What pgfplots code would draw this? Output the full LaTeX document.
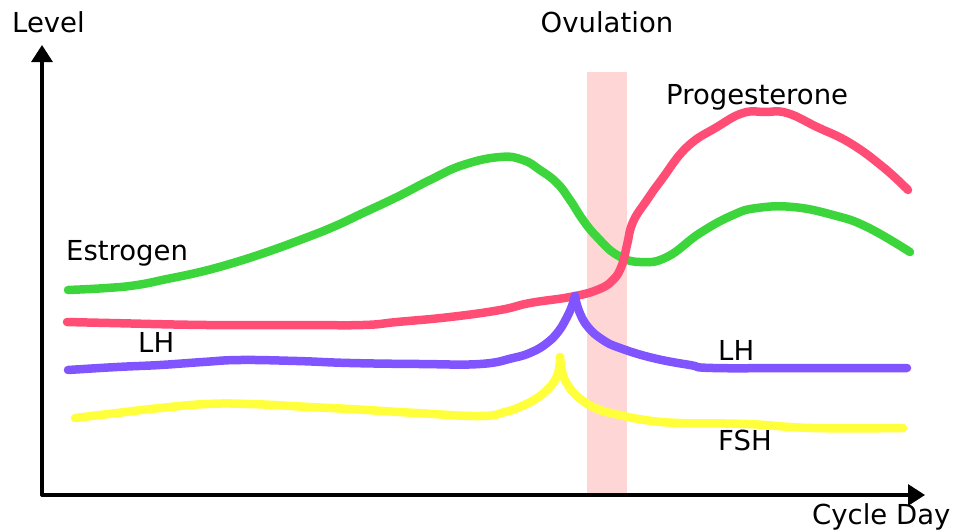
\documentclass[border=0pt]{standalone}
\usepackage{pgfplots}
\pgfplotsset{compat=1.18}
\usepackage{fontspec}
\setmainfont{DejaVu Sans}
\usetikzlibrary{arrows.meta}
\definecolor{cgreen}{RGB}{60,214,60}
\definecolor{cred}{RGB}{255,77,118}
\definecolor{cpurple}{RGB}{128,85,255}
\definecolor{cyellow}{RGB}{255,255,60}
\definecolor{cpink}{RGB}{255,214,214}
\begin{document}
\begin{tikzpicture}
\begin{axis}[
  width=954pt, height=531pt, scale only axis,
  xmin=0, xmax=954, ymin=0, ymax=531, y dir=reverse,
  hide axis, clip=false,
  every axis plot/.append style={line cap=round, line join=round, tension=0.75},
]
% ovulation band
\addplot[fill=cpink, draw=none] coordinates {(587,72) (627,72) (627,495) (587,495)} -- cycle;
% axes
\addplot[black, line width=3.2pt, -{Triangle[length=17pt,width=21pt]}] coordinates {(42,495) (42,45)};
\addplot[black, line width=3.2pt, -{Triangle[length=17pt,width=21pt]}] coordinates {(42,495) (925,495)};
% Estrogen
\addplot[cgreen, line width=8.5pt, smooth] coordinates {
(68,290) (107,288) (137,285) (167,279) (200,272) (233,263) (267,252) (300,240) (333,227)
(363,213) (397,197) (430,180) (463,165) (500,157) (523,160) (540,170) (557,183)
(570,200) (583,220) (597,237) (617,255) (640,262) (667,257) (700,233) (733,215)
(757,208) (793,207) (833,215) (867,227) (910,252)};
% Progesterone
\addplot[cred, line width=8.5pt, smooth] coordinates {
(67,322) (110,323) (207,325) (300,325) (363,325) (397,322) (450,317) (500,310)
(530,303) (570,297) (597,290) (613,280) (622,265) (627,245) (633,222)
(647,200) (662,179) (687,147) (717,127) (743,113) (765,112) (787,113)
(817,127) (850,143) (883,167) (908,190)};
% LH
\addplot[cpurple, line width=8.5pt, smooth] coordinates {
(68,370) (117,367) (160,365) (203,362) (240,360) (297,361) (350,363) (420,364) (480,364)
(513,358) (532,352) (547,343) (558,332) (566,319) (572,306) (575,296)};
\addplot[cpurple, line width=8.5pt, smooth] coordinates {
(575,296) (579,311) (588,327) (603,340) (620,348) (653,358) (690,365) (713,368) (800,368) (907,368)};
% FSH
\addplot[cyellow, line width=8.5pt, smooth] coordinates {
(75,418) (117,413) (160,408) (207,404) (250,404) (310,407) (350,409) (417,413) (480,416)
(505,412) (522,406) (537,398) (548,389) (555,380) (559,369) (560,357)};
\addplot[cyellow, line width=8.5pt, smooth] coordinates {
(560,357) (562,371) (566,382) (574,393) (586,403) (600,410) (615,414) (645,420) (680,423)
(747,424) (813,428) (903,428)};
% labels
\tikzset{lbl/.style={anchor=west, inner sep=0pt, font=\fontsize{27.5}{32}\selectfont}}
\node[lbl] at (axis cs:12,22) {Level};
\node[lbl, anchor=center] at (axis cs:607,22) {Ovulation};
\node[lbl] at (axis cs:666,97) {Progesterone};
\node[lbl] at (axis cs:66,253) {Estrogen};
\node[lbl] at (axis cs:138,342) {LH};
\node[lbl] at (axis cs:718,350) {LH};
\node[lbl] at (axis cs:718,440) {FSH};
\node[lbl] at (axis cs:812,517) {Cycle Day};
\end{axis}
\pgfresetboundingbox
\useasboundingbox (0,0) rectangle (954pt,531pt);
\end{tikzpicture}
\end{document}
